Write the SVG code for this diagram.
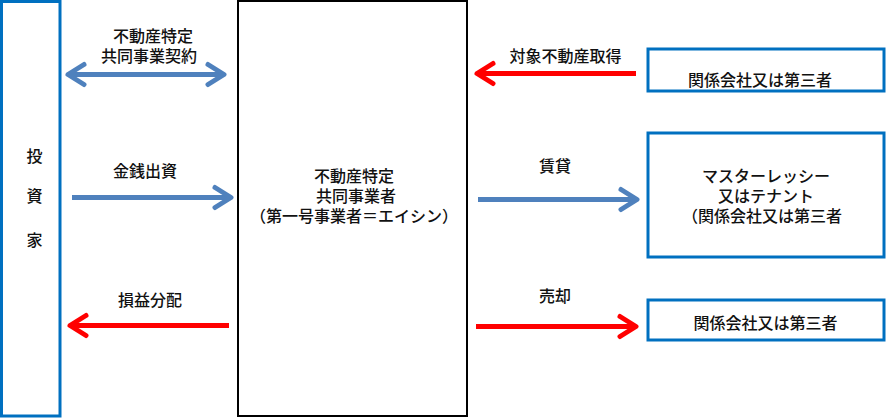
<svg xmlns="http://www.w3.org/2000/svg" width="886" height="419" viewBox="0 0 886 419">
<style>
text{font-family:"Noto Sans CJK JP","Noto Sans",sans-serif;font-size:16px;font-weight:500;fill:#111;text-anchor:middle}
.bbox{fill:#fff;stroke:#0070c0;stroke-width:3}
.cbox{fill:#fff;stroke:#000;stroke-width:2}
.blue{fill:none;stroke:#4f81bd;stroke-width:5}
.red{fill:none;stroke:#ff0000;stroke-width:5}
</style>
<defs>
<marker id="mb" markerUnits="userSpaceOnUse" viewBox="-22 -15 28 30" markerWidth="28" markerHeight="30" refX="0" refY="0" orient="auto-start-reverse">
<path d="M-16,-10 L0,0 L-16,10" fill="none" stroke="#4f81bd" stroke-width="5" stroke-linecap="round" stroke-linejoin="round"/>
</marker>
<marker id="mr" markerUnits="userSpaceOnUse" viewBox="-22 -15 28 30" markerWidth="28" markerHeight="30" refX="0" refY="0" orient="auto-start-reverse">
<path d="M-16,-10 L0,0 L-16,10" fill="none" stroke="#ff0000" stroke-width="5" stroke-linecap="round" stroke-linejoin="round"/>
</marker>
</defs>
<rect width="886" height="419" fill="#fff"/>
<g id="investor">
<rect class="bbox" x="1.5" y="1.5" width="58.5" height="414.5"/>
<text x="34.5" y="162">投</text>
<text x="34.5" y="202">資</text>
<text x="34.5" y="246">家</text>
</g>
<g id="operator">
<rect class="cbox" x="238" y="1" width="229" height="415"/>
<text x="354" y="182">不動産特定</text>
<text x="356" y="202">共同事業者</text>
<text x="354" y="222">（第一号事業者＝エイシン）</text>
</g>
<g id="seller">
<rect class="bbox" x="648" y="49" width="236" height="42"/>
<text x="760" y="86">関係会社又は第三者</text>
</g>
<g id="tenant">
<rect class="bbox" x="648" y="133" width="236" height="124"/>
<text x="766" y="182">マスターレッシー</text>
<text x="766" y="202">又はテナント</text>
<text x="762" y="222">（関係会社又は第三者</text>
</g>
<g id="buyer">
<rect class="bbox" x="648" y="300" width="236" height="40"/>
<text x="765.5" y="329">関係会社又は第三者</text>
</g>
<g id="connectors">
<path class="blue" d="M68,74.5 H224" marker-start="url(#mb)" marker-end="url(#mb)"/>
<path class="blue" d="M72,197.5 H231" marker-end="url(#mb)"/>
<path class="red" d="M229,325.5 H70" marker-end="url(#mr)"/>
<path class="red" d="M636,73.5 H477" marker-end="url(#mr)"/>
<path class="blue" d="M478,199.5 H637" marker-end="url(#mb)"/>
<path class="red" d="M476,326.5 H636" marker-end="url(#mr)"/>
<text x="153" y="42">不動産特定</text>
<text x="149" y="62">共同事業契約</text>
<text x="145" y="177">金銭出資</text>
<text x="150" y="306">損益分配</text>
<text x="565.5" y="62">対象不動産取得</text>
<text x="555" y="172">賃貸</text>
<text x="555" y="302">売却</text>
</g>
</svg>
